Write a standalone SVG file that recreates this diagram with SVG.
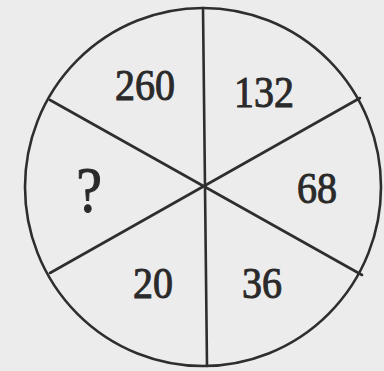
<svg xmlns="http://www.w3.org/2000/svg" width="384" height="371" viewBox="0 0 384 371">
<style>
.ln{stroke:#2e2e2e;stroke-width:2.6;fill:none;stroke-linecap:round}
.t{font-family:"Liberation Serif",serif;font-size:40px;fill:#2a2a2a;stroke:#2a2a2a;stroke-width:0.9;text-anchor:middle}
</style>
<rect width="384" height="371" fill="#ececec"/>
<g id="circle"><ellipse class="ln" cx="203" cy="187" rx="178" ry="179"/></g>
<g id="connectors">
<line class="ln" x1="203" y1="8" x2="207" y2="366"/>
<line class="ln" x1="50" y1="100" x2="362" y2="275"/>
<line class="ln" x1="360" y1="98" x2="50" y2="273"/>
</g>
<g id="s260"><text class="t" transform="translate(145,100) scale(1,1.12)">260</text></g>
<g id="s132"><text class="t" transform="translate(264,107) scale(1,1.12)">132</text></g>
<g id="s68"><text class="t" transform="translate(317,203) scale(1,1.12)">68</text></g>
<g id="s36"><text class="t" transform="translate(262,298) scale(1,1.12)">36</text></g>
<g id="s20"><text class="t" transform="translate(153,298) scale(1,1.12)">20</text></g>
<g id="sq"><text class="t" transform="translate(89,212) scale(1,1.12)" style="font-size:58px">?</text></g>
</svg>
